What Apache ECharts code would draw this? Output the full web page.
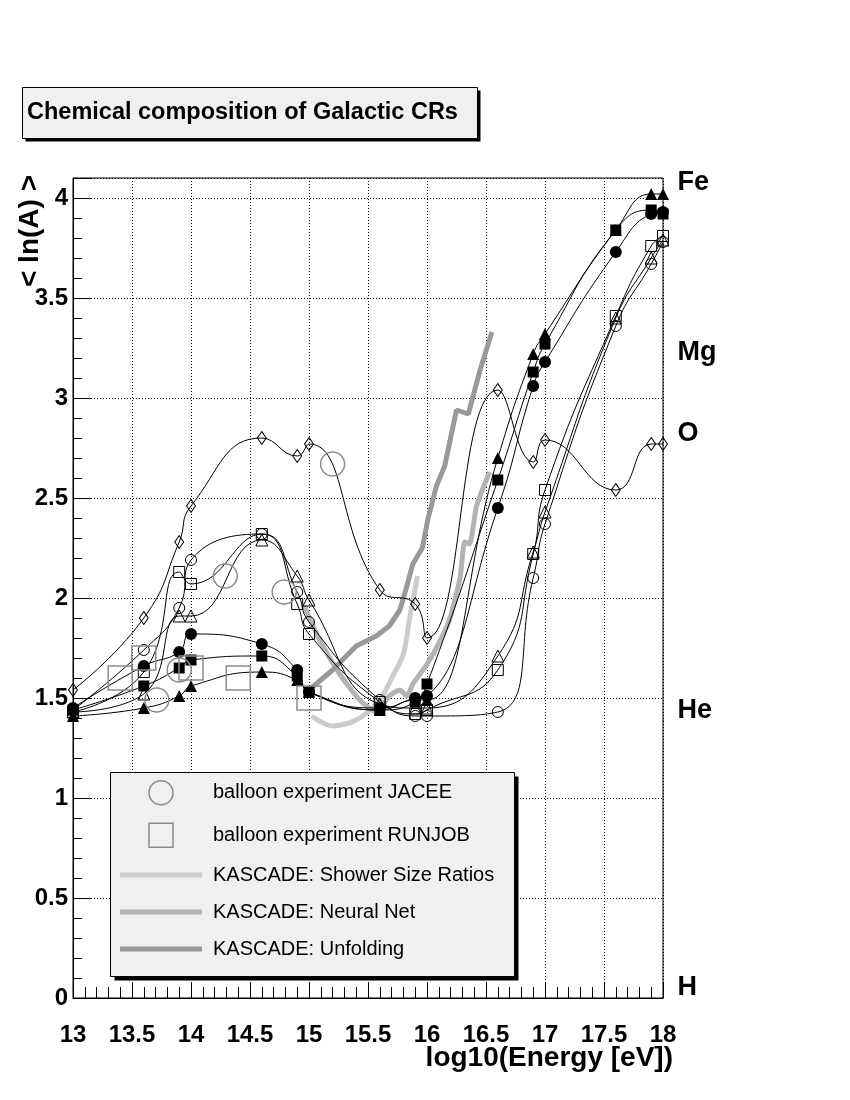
<!DOCTYPE html>
<html>
<head>
<meta charset="utf-8">
<title>Chemical composition of Galactic CRs</title>
<script src="https://cdn.jsdelivr.net/npm/echarts@6/dist/echarts.min.js"></script>
<style>
html, body { margin: 0; padding: 0; background: #fff; }
#chart { width: 850px; height: 1100px; }
</style>
</head>
<body>
<div id="chart"></div>
<script>
// log10(E/eV) of the model points
const energies = [13.0, 13.6, 13.9, 14.0, 14.6, 14.9, 15.0, 15.6, 15.9, 16.0, 16.6, 16.9, 17.0, 17.6, 17.9, 18.0];

// <ln A> of the seven model curves, one value per energy
const openDiamond  = [1.54, 1.90, 2.28, 2.46, 2.80, 2.71, 2.77, 2.04, 1.97, 1.80, 3.04, 2.68, 2.79, 2.54, 2.77, 2.77];
const openCircle   = [1.44, 1.74, 1.95, 2.19, 2.32, 2.03, 1.88, 1.49, 1.41, 1.41, 1.43, 2.10, 2.37, 3.36, 3.67, 3.78];
const openSquare   = [1.43, 1.63, 2.13, 2.07, 2.32, 1.97, 1.82, 1.48, 1.42, 1.44, 1.64, 2.22, 2.54, 3.41, 3.76, 3.81];
const openTriangle = [1.43, 1.52, 1.91, 1.91, 2.29, 2.11, 1.99, 1.47, 1.45, 1.45, 1.71, 2.23, 2.43, 3.40, 3.70, 3.79];
const fullCircle   = [1.45, 1.66, 1.73, 1.82, 1.77, 1.64, 1.53, 1.45, 1.50, 1.51, 2.45, 3.06, 3.18, 3.73, 3.92, 3.93];
const fullSquare   = [1.44, 1.56, 1.65, 1.69, 1.71, 1.61, 1.53, 1.44, 1.48, 1.57, 2.59, 3.13, 3.27, 3.84, 3.94, 3.92];
const fullTriangle = [1.41, 1.45, 1.51, 1.56, 1.63, 1.59, 1.53, 1.44, 1.49, 1.49, 2.70, 3.22, 3.32, 3.84, 4.02, 4.02];

// balloon experiments
const jaceeE = [13.71, 13.90, 14.29, 14.79, 15.20];
const jaceeLnA = [1.49, 1.64, 2.11, 2.03, 2.67];
const runjobE = [13.40, 13.60, 14.00, 14.40, 15.00];
const runjobLnA = [1.60, 1.70, 1.65, 1.60, 1.50];

// KASCADE results
const showerE = [15.02, 15.20, 15.40, 15.60, 15.71, 15.80, 15.85, 15.92];
const showerLnA = [1.41, 1.36, 1.39, 1.49, 1.61, 1.72, 1.89, 2.11];
const nnE = [14.96, 15.09, 15.26, 15.43, 15.57, 15.68, 15.77, 15.83, 15.88, 15.99, 16.08, 16.19, 16.28, 16.32, 16.36, 16.42, 16.53];
const nnLnA = [1.96, 1.79, 1.62, 1.49, 1.43, 1.51, 1.54, 1.51, 1.57, 1.66, 1.75, 1.89, 2.10, 2.28, 2.27, 2.46, 2.63];
const unfE = [15.00, 15.20, 15.40, 15.57, 15.68, 15.77, 15.82, 15.88, 15.96, 16.01, 16.08, 16.15, 16.25, 16.35, 16.45, 16.55];
const unfLnA = [1.54, 1.64, 1.76, 1.81, 1.86, 1.94, 2.04, 2.17, 2.25, 2.40, 2.56, 2.66, 2.94, 2.92, 3.14, 3.33];

// element marks on the right side
const elementNames = ['H', 'He', 'O', 'Mg', 'Fe'];
const elementLnA = [0, 1.386, 2.773, 3.178, 4.025];

const FONT = '"Liberation Sans", Arial, Helvetica, sans-serif';

let myChart = echarts.init(document.getElementById('chart'));

function pairs(xs, ys) {
    return xs.map((x, i) => [x, ys[i]]);
}

function modelSeries(name, values, symbol, size, filled) {
    return {
        name: name,
        type: 'line',
        smooth: true,
        z: 3,
        clip: false,
        data: pairs(energies, values),
        symbol: symbol,
        symbolSize: size,
        showAllSymbol: true,
        lineStyle: { color: '#000', width: 1 },
        itemStyle: filled
            ? { color: '#000' }
            : { color: 'rgba(255,255,255,0)', borderColor: '#000', borderWidth: 1 }
    };
}

function kascadeSeries(name, xs, ys, color, smooth) {
    return {
        name: name,
        type: 'line',
        smooth: smooth,
        z: 2,
        data: pairs(xs, ys),
        symbol: 'none',
        lineStyle: { color: color, width: 5 },
        itemStyle: { color: color }
    };
}

function balloonSeries(name, xs, ys, symbol) {
    return {
        name: name,
        type: 'scatter',
        z: 4,
        clip: false,
        data: pairs(xs, ys),
        symbol: symbol,
        symbolSize: 24,
        itemStyle: { color: 'rgba(255,255,255,0)', borderColor: '#8c8c8c', borderWidth: 1.5, opacity: 1 }
    };
}

const labelStyle = { fontSize: 24, fontWeight: 'bold', color: '#000', fontFamily: FONT };
const barIcon = 'path://M0,0H82V5H0Z';

myChart.setOption({
    animation: false,
    backgroundColor: '#fff',
    grid: {
        left: 73, top: 178, width: 590, height: 820,
        show: true, borderColor: '#000', borderWidth: 1,
        outerBoundsMode: 'none'
    },
    xAxis: [{
        type: 'value', min: 13, max: 18, interval: 0.5,
        axisLine: { show: true, onZero: false, lineStyle: { color: '#000', width: 1 } },
        axisTick: { show: true, inside: true, length: 16, lineStyle: { color: '#000' } },
        minorTick: { show: true, splitNumber: 5, length: 11, lineStyle: { color: '#000' } },
        splitLine: { show: true, lineStyle: { color: '#000', type: [1, 2], width: 1 } },
        axisLabel: Object.assign({ margin: 25 }, labelStyle)
    }],
    yAxis: [{
        type: 'value', min: 0, max: 4.1, interval: 0.5, position: 'left',
        axisLine: { show: true, onZero: false, lineStyle: { color: '#000', width: 1 } },
        axisTick: { show: true, inside: true, length: 18, lineStyle: { color: '#000' } },
        minorTick: { show: false },
        splitLine: { show: true, lineStyle: { color: '#000', type: [1, 2], width: 1 } },
        axisLabel: Object.assign({ margin: 5, formatter: v => (v > 4.05 ? '' : String(v)) }, labelStyle)
    }, {
        // small ticks every 0.1
        type: 'value', min: 0, max: 4.1, interval: 0.1, position: 'left', offset: 0,
        axisLine: { show: false },
        axisTick: { show: true, inside: true, length: 9, lineStyle: { color: '#000' } },
        axisLabel: { show: false },
        splitLine: { show: false }
    }],
    legend: {
        orient: 'vertical', left: 120, top: 780, padding: 0,
        itemGap: 17, itemWidth: 82, itemHeight: 24,
        symbolKeepAspect: true,
        selectedMode: false, z: 20,
        textStyle: { fontSize: 20, color: '#000', fontFamily: FONT, padding: [0, 0, 0, 6] },
        data: [
            { name: 'balloon experiment JACEE', icon: 'circle', itemStyle: { color: 'rgba(255,255,255,0)', borderColor: '#8c8c8c', borderWidth: 1.5, opacity: 1 } },
            { name: 'balloon experiment RUNJOB', icon: 'path://M0,0H10V10H0Z', itemStyle: { color: 'rgba(255,255,255,0)', borderColor: '#8c8c8c', borderWidth: 1.5, opacity: 1 } },
            { name: 'KASCADE: Shower Size Ratios', icon: barIcon, itemStyle: { color: '#cccccc', borderWidth: 0 } },
            { name: 'KASCADE: Neural Net', icon: barIcon, itemStyle: { color: '#b3b3b3', borderWidth: 0 } },
            { name: 'KASCADE: Unfolding', icon: barIcon, itemStyle: { color: '#999999', borderWidth: 0 } }
        ]
    },
    graphic: [
        // title box
        { type: 'rect', z: 10, shape: { x: 25.5, y: 90.5, width: 455, height: 51 }, style: { fill: '#000' } },
        { type: 'rect', z: 11, shape: { x: 22.5, y: 87.5, width: 455, height: 51 }, style: { fill: '#f0f0f0', stroke: '#000', lineWidth: 1 } },
        { type: 'text', z: 12, x: 27, y: 113, style: { text: 'Chemical composition of Galactic CRs', font: 'bold 23.5px ' + FONT, fill: '#000', textVerticalAlign: 'middle' } },
        // legend box
        { type: 'rect', z: 10, shape: { x: 114.5, y: 776.5, width: 404, height: 204 }, style: { fill: '#000' } },
        { type: 'rect', z: 11, shape: { x: 110.5, y: 772.5, width: 404, height: 204 }, style: { fill: '#f0f0f0', stroke: '#000', lineWidth: 1 } },
        // axis titles
        { type: 'text', z: 12, x: 30, y: 231, rotation: Math.PI / 2, style: { text: '< ln(A) >', font: 'bold 28px ' + FONT, fill: '#000', textAlign: 'center', textVerticalAlign: 'middle' } },
        { type: 'text', z: 12, x: 673, y: 1058, style: { text: 'log10(Energy [eV])', font: 'bold 28px ' + FONT, fill: '#000', textAlign: 'right', textVerticalAlign: 'middle' } }
    ],
    series: [
        modelSeries('m1', openDiamond, 'diamond', [9, 13], false),
        modelSeries('m2', openCircle, 'circle', 11, false),
        modelSeries('m3', openSquare, 'rect', 11, false),
        modelSeries('m4', openTriangle, 'triangle', 12, false),
        modelSeries('m5', fullCircle, 'circle', 12, true),
        modelSeries('m6', fullSquare, 'rect', 11, true),
        modelSeries('m7', fullTriangle, 'triangle', 12, true),
        balloonSeries('balloon experiment JACEE', jaceeE, jaceeLnA, 'circle'),
        balloonSeries('balloon experiment RUNJOB', runjobE, runjobLnA, 'rect'),
        kascadeSeries('KASCADE: Shower Size Ratios', showerE, showerLnA, '#cccccc', 0.3),
        kascadeSeries('KASCADE: Neural Net', nnE, nnLnA, '#b3b3b3', 0.2),
        kascadeSeries('KASCADE: Unfolding', unfE, unfLnA, '#999999', false),
        {
            name: 'elements',
            type: 'scatter',
            silent: true,
            clip: false,
            z: 5,
            symbolSize: 1,
            itemStyle: { color: '#000', opacity: 1 },
            data: elementLnA.map((v, i) => ({ value: [18, v], name: elementNames[i] })),
            label: {
                show: true, position: 'right', distance: 14, offset: [0, -10],
                formatter: p => p.name, opacity: 1,
                fontSize: 27, fontWeight: 'bold', color: '#000', fontFamily: FONT
            }
        }
    ]
});
</script>
</body>
</html>
